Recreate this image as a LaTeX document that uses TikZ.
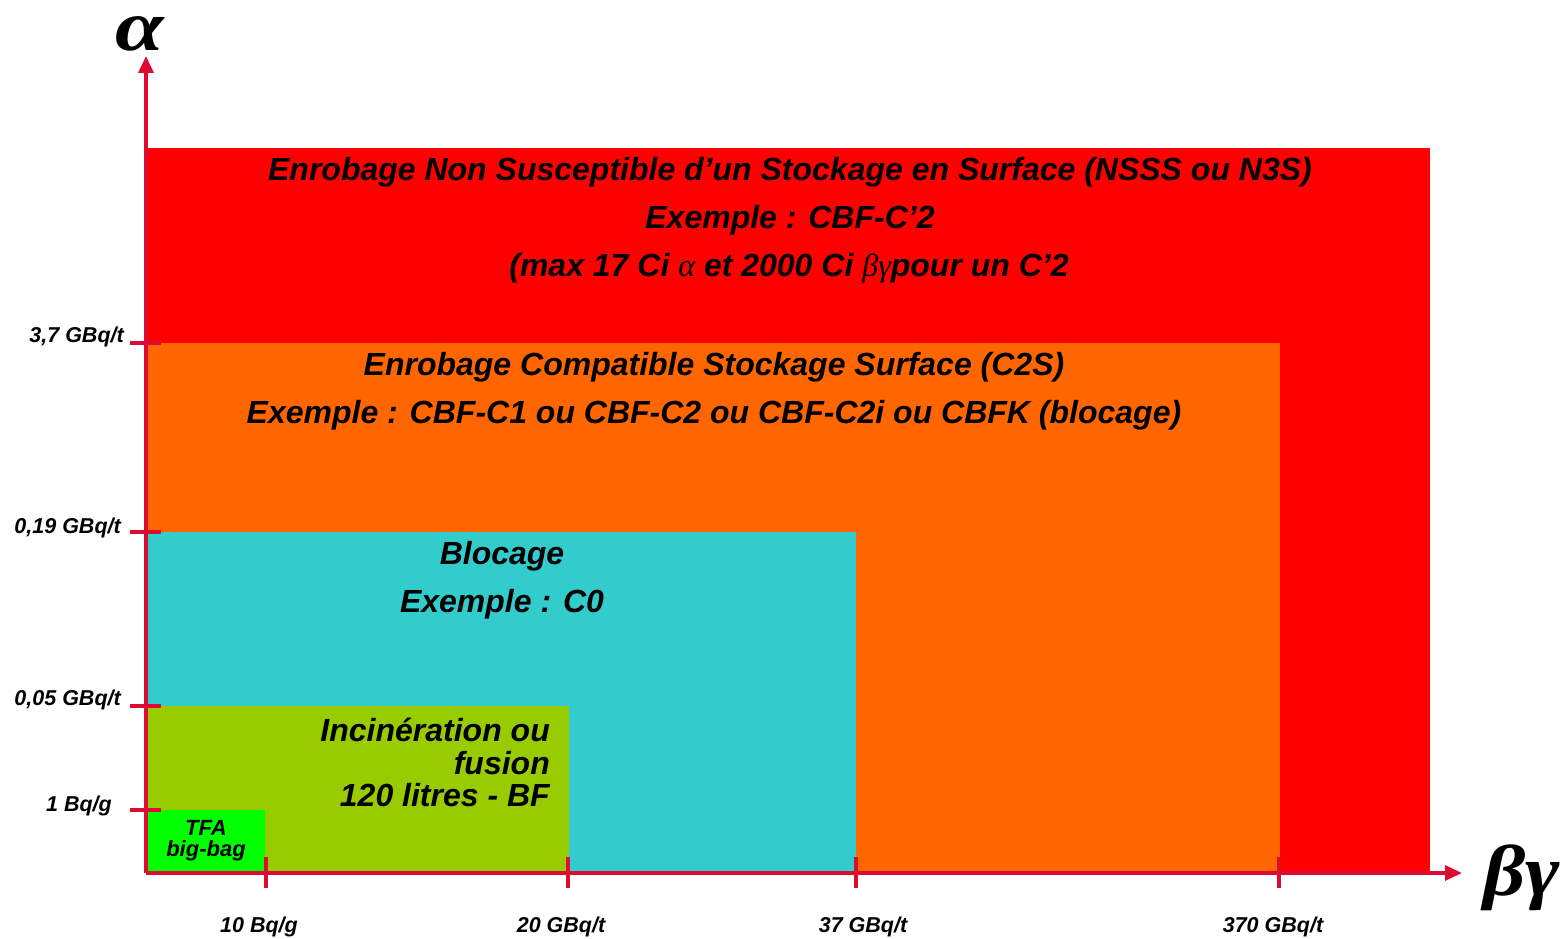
\documentclass[tikz,border=0pt]{standalone}
\usepackage{fontspec}
\setmainfont{Liberation Sans}
\newfontfamily\grkfont{Liberation Serif}
\usetikzlibrary{arrows.meta}
\definecolor{zoneRed}{HTML}{FF0000}
\definecolor{zoneOrange}{HTML}{FF6600}
\definecolor{zoneCyan}{HTML}{33CCCC}
\definecolor{zoneOlive}{HTML}{99CC00}
\definecolor{zoneGreen}{HTML}{00FF00}
\definecolor{axisRed}{HTML}{DD0A32}
\begin{document}
\begin{tikzpicture}[x=1pt,y=-1pt,
  zonetext/.style={font=\fontsize{32}{34}\selectfont\bfseries\itshape, inner sep=0pt, anchor=center},
  smalltext/.style={font=\fontsize{21.5}{23}\selectfont\bfseries\itshape, inner sep=0pt},
  tfatext/.style={font=\fontsize{22}{23}\selectfont\bfseries\itshape, inner sep=0pt, anchor=center},
  axis/.style={draw=axisRed, line width=3.5pt, -{Triangle[length=17pt,width=15pt]}},
  tick/.style={draw=axisRed, line width=4pt},
  greek/.style={inner sep=0pt}
]
\useasboundingbox (0,0) rectangle (1564,939);

% nested activity zones
\fill[zoneRed]    (146,148) rectangle (1430,873);
\fill[zoneOrange] (146,343) rectangle (1280,873);
\fill[zoneCyan]   (146,532) rectangle (856,873);
\fill[zoneOlive]  (146,706) rectangle (569,873);
\fill[zoneGreen]  (146,810) rectangle (265,873);

% axes
\coordinate (O) at (146,873);
\coordinate (ytip) at (146,56);
\coordinate (xtip) at (1462,873);
\draw[axis] (O) -- (ytip);
\draw[axis] (O) -- (xtip);
\node[greek, font=\fontsize{72}{74}\selectfont\grkfont\bfseries\itshape, xscale=1.22, anchor=base] (alpha) at (140,51) {α};
\node[greek, font=\fontsize{72}{74}\selectfont\grkfont\bfseries\itshape, xscale=1.15, anchor=base west] (betagamma) at (1483,895) {βγ};

% ticks on the vertical axis
\foreach \yy/\nm in {343/ya,532/yb,706/yc,810/yd}{
  \coordinate (\nm l) at (130,\yy);
  \coordinate (\nm r) at (161,\yy);
  \draw[tick] (\nm l) -- (\nm r);
}
% ticks on the horizontal axis
\foreach \xx/\nm in {266/xa,568/xb,856/xc,1279/xd}{
  \coordinate (\nm t) at (\xx,857);
  \coordinate (\nm b) at (\xx,888);
  \draw[tick] (\nm t) -- (\nm b);
}

% vertical axis labels
\node[smalltext, anchor=east] (l37)  at (124,337) {3,7 GBq/t};
\node[smalltext, anchor=east] (l019) at (121,528) {0,19 GBq/t};
\node[smalltext, anchor=east] (l005) at (121,700) {0,05 GBq/t};
\node[smalltext, anchor=east] (l1)   at (112,806) {1 Bq/g};

% horizontal axis labels
\node[smalltext, anchor=center] (l10)  at (259,927) {10 Bq/g};
\node[smalltext, anchor=center] (l20)  at (561,927) {20 GBq/t};
\node[smalltext, anchor=center] (l37b) at (863,927) {37 GBq/t};
\node[smalltext, anchor=center] (l370) at (1273,927) {370 GBq/t};

% red zone
\node[zonetext] (n3sa) at (790,172) {Enrobage Non Susceptible d’un Stockage en Surface (NSSS ou N3S)};
\node[zonetext] (n3sb) at (790,220) {Exemple : CBF-C’2};
\node[zonetext] (n3sc) at (789,268) {(max 17 Ci {\grkfont\itshape\mdseries α} et 2000 Ci {\grkfont\itshape\mdseries βγ}pour un C’2};

% orange zone
\node[zonetext] (c2sa) at (714,367) {Enrobage Compatible Stockage Surface (C2S)};
\node[zonetext] (c2sb) at (714,415) {Exemple : CBF-C1 ou CBF-C2 ou CBF-C2i ou CBFK (blocage)};

% cyan zone
\node[zonetext] (bla) at (502,556) {Blocage};
\node[zonetext] (blb) at (502,604) {Exemple : C0};

% olive zone
\node[zonetext, anchor=east] (inca) at (550,730) {Incinération ou};
\node[zonetext, anchor=east] (incb) at (550,763) {fusion};
\node[zonetext, anchor=east] (incc) at (550,795) {120 litres - BF};

% green zone
\node[tfatext] (tfaa) at (206,828) {TFA};
\node[tfatext] (tfab) at (206,851) {big-bag};
\end{tikzpicture}
\end{document}
